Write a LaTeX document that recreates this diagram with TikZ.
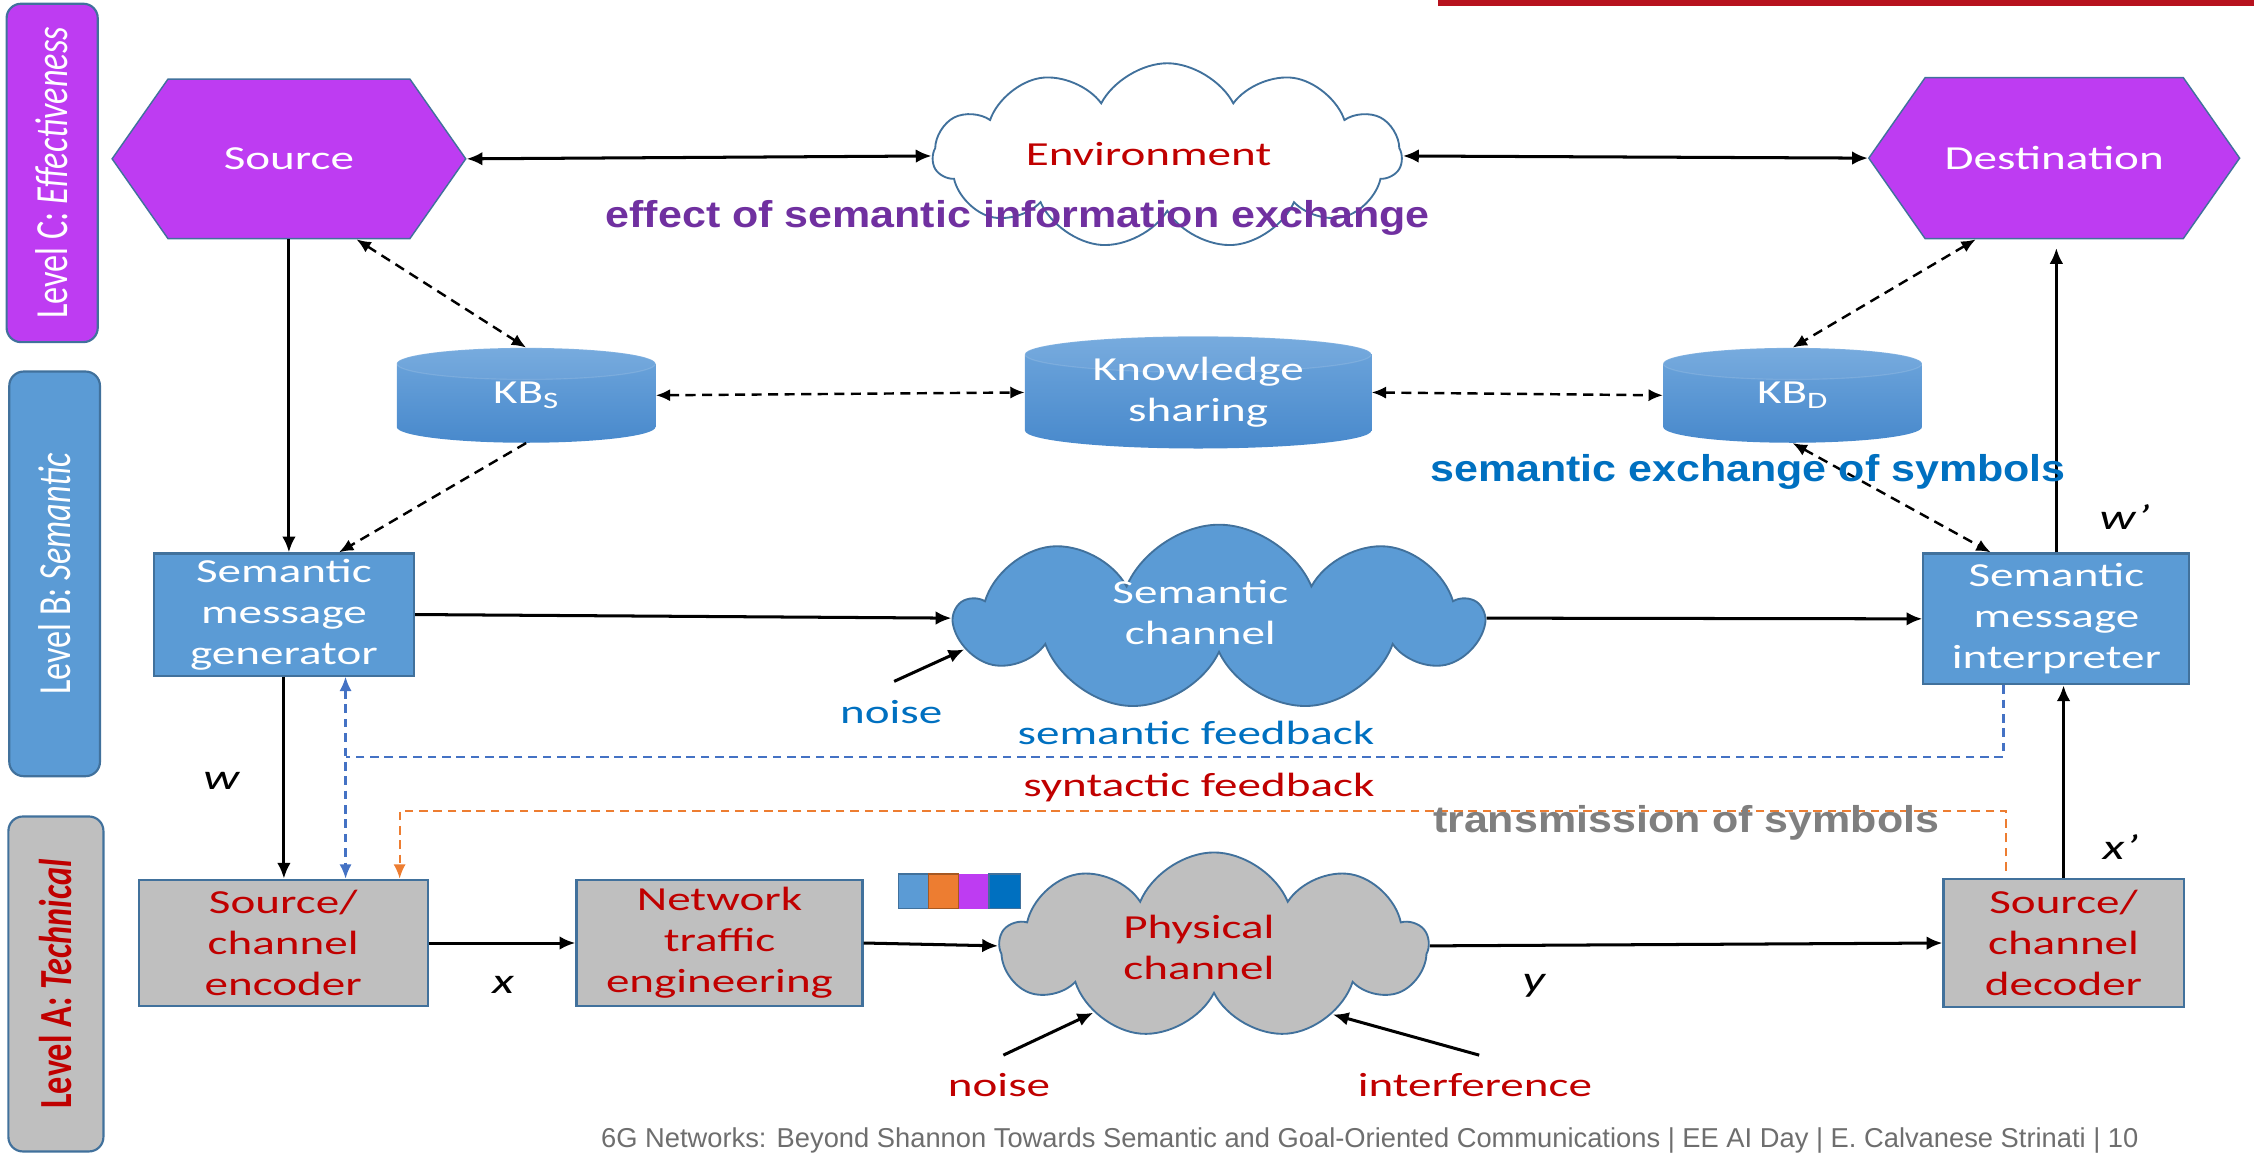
\documentclass[tikz,border=0pt]{standalone}
\usepackage{fontspec}
\setmainfont{Carlito}
\newfontfamily\calS[FakeStretch=1.4]{Carlito}
\newfontfamily\lvlfont[FakeStretch=0.745]{Carlito}
\newfontfamily\annotfont[FakeStretch=1.15]{Liberation Sans}
\newfontfamily\footfont{Liberation Sans}
\usetikzlibrary{shapes.symbols,shapes.geometric,arrows.meta,calc}
\definecolor{purp}{RGB}{190,60,242}
\definecolor{sblue}{RGB}{91,155,213}
\definecolor{bord}{RGB}{65,113,156}
\definecolor{lgray}{RGB}{191,191,191}
\definecolor{dred}{RGB}{192,0,0}
\definecolor{tblue}{RGB}{0,112,192}
\definecolor{tpurp}{RGB}{112,48,160}
\definecolor{tgray}{RGB}{127,127,127}
\definecolor{fbblue}{RGB}{68,114,196}
\definecolor{fborange}{RGB}{237,125,49}
\definecolor{cyltop}{RGB}{111,166,220}
\definecolor{cylbot}{RGB}{72,137,204}
\definecolor{barred}{RGB}{183,18,30}
\definecolor{footgray}{RGB}{110,110,110}
\newcommand\bxf{\calS\fontsize{23.4}{28.5}\selectfont}
\newcommand\varf{\calS\itshape\fontsize{25}{30}\selectfont}
\newcommand\anf{\annotfont\bfseries\fontsize{26}{30}\selectfont}
\newcommand\lvlf{\lvlfont\fontsize{32}{36}\selectfont}
\tikzset{
  lvlbar/.style={rotate=90, rounded corners=10pt, draw=bord, line width=1.5pt, inner sep=0pt},
  hexa/.style={signal, signal to=west and east, signal pointer angle=110, fill=purp, draw=bord,
    line width=1pt, inner sep=0pt, text=white, font=\bxf},
  cloudn/.style={cloud, cloud puffs=10, cloud puff arc=125, cloud ignores aspect, draw=bord,
    line width=1.3pt, inner sep=0pt},
  sbox/.style={draw=bord, line width=1.5pt, inner sep=0pt, align=center, font=\bxf},
  kbcyl/.style={inner sep=0pt, text=white, font=\bxf, align=center,
    path picture={
      \path let \p1=(path picture bounding box.north west),
                \p2=(path picture bounding box.south east),
                \n1={(\x2-\x1)/2}
        in [top color=cyltop, bottom color=cylbot]
        (\x1,\y1-#1) -- (\x1,\y2+#1)
        arc[start angle=180, end angle=360, x radius=\n1, y radius=#1]
        -- (\x2,\y1-#1)
        arc[start angle=0, end angle=180, x radius=\n1, y radius=#1] -- cycle;
      \path let \p1=(path picture bounding box.north west),
                \p2=(path picture bounding box.south east),
                \n1={(\x2-\x1)/2}, \n2={(\x1+\x2)/2}
        in [fill=white, fill opacity=0.06, draw=white, draw opacity=0.12, line width=0.8pt]
        (\n2,\y1-#1) ellipse [x radius=\n1, y radius=#1];
    }},
  conn/.style={line width=2.1pt, >={Latex[length=11pt,width=9.5pt]}},
  dconn/.style={line width=1.7pt, dash pattern=on 7pt off 4.5pt, >={Latex[length=10pt,width=8.5pt]}},
  fbline/.style={line width=1.5pt, dash pattern=on 6pt off 4pt, >={Latex[length=10pt,width=8.5pt]}},
  lbl/.style={font=\bxf, inner sep=1pt},
  varl/.style={font=\varf, inner sep=1pt},
  annot/.style={font=\anf, anchor=base, inner sep=0pt}
}
\begin{document}
\begin{tikzpicture}[x=1pt,y=1pt]
\useasboundingbox (0,0) rectangle (1568,-803);
\clip (0,0) rectangle (1568,-803);

% top red bar
\fill[barred] (1000,0) rectangle (1568,-4);

% level bars
\node[lvlbar, fill=purp, minimum width=235.4, minimum height=63.4, text=white] (lvC) at (36.3,-120.3)
  {\lvlf Level C: \itshape Effectiveness};
\node[lvlbar, fill=sblue, minimum width=281.5, minimum height=63.1, text=white] (lvB) at (38,-399.2)
  {\lvlf Level B: \itshape Semantic};
\node[lvlbar, fill=lgray, minimum width=233, minimum height=66.1, text=dred] (lvA) at (38.9,-684.5)
  {\lvlf\bfseries Level A: \itshape Technical};

% hexagons
\node[hexa, minimum width=246, minimum height=111] (src) at (201,-110.5) {Source};
\node[hexa, minimum width=258, minimum height=112] (dst) at (1429,-110) {Destination};

% clouds
\node[cloudn, cloud puffs=11, fill=white, minimum width=326, minimum height=129] (env) at (812,-108.5) {};
\node[cloudn, cloud puffs=9, cloud puff arc=135, fill=sblue, minimum width=364, minimum height=130] (sem) at (848,-430) {};
\node[cloudn, cloud puffs=9, cloud puff arc=135, fill=lgray, minimum width=297, minimum height=130] (phys) at (844.5,-658) {};
\node[lbl, text=dred] (envt) at (799,-107) {Environment};
\node[lbl, text=white, align=center] (semt) at (835,-426) {Semantic\\channel};
\node[lbl, text=dred, align=center] (phyt) at (834,-659) {Physical\\channel};

% knowledge bases
\node[kbcyl=11pt, minimum width=180, minimum height=66] (kbs) at (366,-275) {KB\textsubscript{S}};
\node[kbcyl=12.5pt, minimum width=241, minimum height=78] (ks) at (833.5,-273) {Knowledge\\sharing};
\node[kbcyl=11pt, minimum width=180, minimum height=66] (kbd) at (1247,-275) {KB\textsubscript{D}};

% boxes
\node[sbox, fill=sblue, text=white, minimum width=181, minimum height=85] (gen) at (197.5,-427.5)
  {Semantic\\message\\generator};
\node[sbox, fill=sblue, text=white, minimum width=185, minimum height=91] (int) at (1430.5,-430.5)
  {Semantic\\message\\interpreter};
\node[sbox, fill=lgray, text=dred, minimum width=201, minimum height=88] (enc) at (197,-656)
  {Source/\\channel\\encoder};
\node[sbox, fill=lgray, text=dred, minimum width=199, minimum height=88] (nte) at (500.5,-656)
  {Network\\traffic\\engineering};
\node[sbox, fill=lgray, text=dred, minimum width=167, minimum height=89] (dec) at (1435.5,-656)
  {Source/\\channel\\decoder};

% packet icon
\filldraw[fill=sblue, draw=bord, line width=0.8pt] (625,-608) rectangle (646,-632);
\filldraw[fill=fborange, draw=fborange!70!black, line width=0.8pt] (646,-608) rectangle (667,-632);
\fill[purp] (667,-608) rectangle (688,-632);
\filldraw[fill=tblue, draw=bord, line width=0.8pt] (688,-608) rectangle (710,-632);

% level C connectors
\draw[conn, <->] (src.east) -- (env.west);
\draw[conn, <->] (env.east) -- (dst.west);
\draw[conn, ->] (src.south) -- (src.south |- gen.north);
\draw[dconn, <->] (src.-50) -- (kbs.north);
\draw[dconn, <->] (dst.-134) -- (kbd.north);
\draw[dconn, <->] (kbs.east) -- (ks.west);
\draw[dconn, <->] (ks.east) -- (kbd.west);
\coordinate (genkb) at ($(gen.north)!0.42!(gen.north east)$);
\coordinate (intkb) at ($(int.north west)!0.51!(int.north)$);
\draw[dconn, ->] (kbs.south) -- (genkb);
\draw[dconn, <->] (kbd.south) -- (intkb);
\draw[conn, ->, shorten >=6pt] (int.north) -- (int.north |- dst.south);

% level B connectors
\draw[conn, ->] (gen.east) -- (sem.west);
\draw[conn, ->] (sem.east) -- (int.west);
\coordinate (n1) at (622,-474);
\draw[conn, ->] (n1) -- (sem.187);
\node[lbl, text=tblue] (noise1) at (620,-495) {noise};

% feedback lines
\coordinate (semlvl) at (0,-526.5);
\coordinate (synlvl) at (0,-564);
\coordinate (genfb) at ($(gen.south)!0.47!(gen.south east)$);
\coordinate (encfb) at (genfb |- enc.north);
\coordinate (intfb) at ($(int.south west)!0.605!(int.south)$);
\draw[fbline, draw=fbblue, <->] (genfb) -- (encfb);
\draw[fbline, draw=fbblue] (intfb) -- (intfb |- semlvl) -- (genfb |- semlvl);
\coordinate (decsyn) at ($(dec.north west)!0.527!(dec.north)$);
\coordinate (encsyn) at ($(enc.north)!0.8!(enc.north east)$);
\draw[fbline, draw=fborange, ->, shorten <=5pt] (decsyn) -- (decsyn |- synlvl) -- (encsyn |- synlvl) -- (encsyn);
\node[lbl, text=tblue] (semfbt) at (832,-510) {semantic feedback};
\node[lbl, text=dred] (synfbt) at (834,-548) {syntactic feedback};

% vertical links
\draw[conn, ->] (gen.south) -- (gen.south |- enc.north);
\draw[conn, ->] (dec.north) -- (dec.north |- int.south);

% level A connectors
\draw[conn, ->] (enc.east) -- (nte.west);
\draw[conn, ->] (nte.east) -- (phys.west);
\draw[conn, ->] (phys.east) -- (dec.west);
\coordinate (n2) at (698,-734);
\coordinate (if) at (1029,-734);
\draw[conn, ->] (n2) -- (phys.209);
\draw[conn, ->] (if) -- (phys.-30);
\node[lbl, text=dred] (noise2) at (695,-755) {noise};
\node[lbl, text=dred] (intft) at (1026,-755) {interference};

% variables
\node[varl] (wl) at (154,-543) {w};
\node[varl] (xl) at (350,-685) {x};
\node[varl] (yl) at (1067,-686) {y};
\node[varl] (wpl) at (1478,-360) {w’};
\node[varl] (xpl) at (1475,-589) {x’};

% annotations
\node[annot, text=tpurp] (eff) at (708,-158) {effect of semantic information exchange};
\node[annot, text=tblue] (sex) at (1216,-335) {semantic exchange of symbols};
\node[annot, text=tgray] (tx) at (1173,-579) {transmission of symbols};

% footer
\node[anchor=base west, inner sep=0pt, text=footgray, font=\footfont\fontsize{19}{22}\selectfont] (foot) at (418,-798)
  {6G Networks: Beyond Shannon Towards Semantic and Goal-Oriented Communications | EE AI Day | E. Calvanese Strinati | 10};
\end{tikzpicture}
\end{document}
